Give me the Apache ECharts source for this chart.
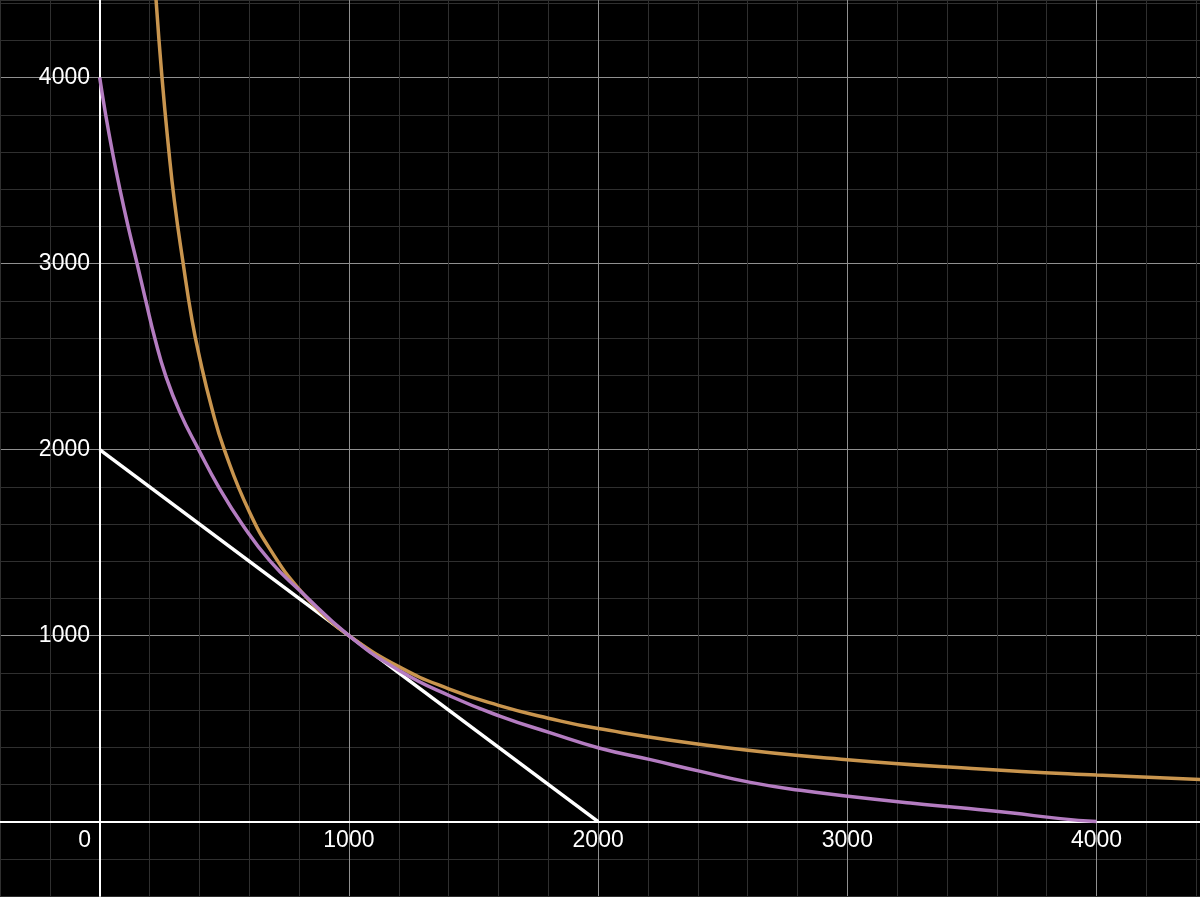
<!DOCTYPE html>
<html>
<head>
<meta charset="utf-8">
<script src="https://cdn.jsdelivr.net/npm/echarts@6/dist/echarts.min.js"></script>
<style>
  html, body { margin: 0; padding: 0; background: #000; }
  #plot { width: 1200px; height: 897px; }
</style>
</head>
<body>
<div id="plot"></div>
<script>
// curve values
var hyperX = [226, 250, 275, 300, 335, 370, 400, 450, 500, 600, 700, 800, 900, 1000, 1200, 1400, 1600, 1800, 2000, 2500, 3000, 3500, 4000, 4420];
var hyperY = [4420, 4000, 3640, 3333, 3000, 2700, 2500, 2222, 2000, 1667, 1430, 1250, 1110, 1000, 833, 714, 625, 556, 500, 400, 333, 286, 250, 226];

var purpleX = [0, 24, 51, 81, 114, 150, 185, 221, 264, 322, 397, 477, 571, 684, 806, 1000, 1207, 1408, 1608, 1809, 2003, 2210, 2411, 2611, 2812, 3012, 3253, 3454, 3654, 3855, 4000];
var purpleY = [4000, 3800, 3600, 3400, 3200, 3000, 2800, 2600, 2400, 2200, 2000, 1800, 1600, 1400, 1238, 1000, 808, 674, 566, 477, 396, 333, 270, 211, 168, 135, 100, 74, 47, 16, 0];

var lineX = [0, 2000];
var lineY = [2000, 0];

var labelTicks = [1000, 2000, 3000, 4000];

function pairs(xs, ys) {
  return xs.map(function (x, i) { return [x, ys[i]]; });
}

var minor = '#2f2f2f';
var major = '#909090';
var labelFont = { color: '#fff', fontSize: 23, fontFamily: 'Liberation Sans' };

var xMin = -400, xMax = 4415, yMin = -400, yMax = 4417;
var W = 1200, H = 896;
// distance of the zero lines from the grid edges
var xZeroOffset = -Math.round(H * (0 - yMin) / (yMax - yMin));
var yZeroOffset = -Math.round(W * (0 - xMin) / (xMax - xMin));

var myPlot = echarts.init(document.getElementById('plot'));
option = {
  backgroundColor: '#000',
  animation: false,
  grid: { left: 0, right: 0, top: 0, bottom: 1, containLabel: false, outerBoundsMode: 'none' },
  xAxis: {
    type: 'value',
    min: xMin,
    max: xMax,
    interval: 200,
    offset: xZeroOffset,
    axisLine: { onZero: false, lineStyle: { color: '#fff', width: 2 } },
    axisTick: { show: false },
    splitLine: { lineStyle: { color: [minor, minor, major, minor, minor], width: 1 } },
    axisLabel: Object.assign({
      interval: 0,
      margin: 7,
      showMinLabel: false,
      showMaxLabel: false,
      formatter: function (v) {
        if (v === 0) return '{z|0}';
        return labelTicks.indexOf(v) >= 0 ? String(v) : '';
      },
      rich: { z: { color: '#fff', fontSize: 23, fontFamily: 'Liberation Sans', padding: [0, 30, 0, 0] } }
    }, labelFont)
  },
  yAxis: {
    type: 'value',
    min: yMin,
    max: yMax,
    interval: 200,
    offset: yZeroOffset,
    axisLine: { onZero: false, lineStyle: { color: '#fff', width: 2 } },
    axisTick: { show: false },
    splitLine: { lineStyle: { color: [minor, minor, major, minor, minor], width: 1 } },
    axisLabel: Object.assign({
      interval: 0,
      margin: 10,
      showMinLabel: false,
      showMaxLabel: false,
      formatter: function (v) {
        return labelTicks.indexOf(v) >= 0 ? String(v) : '';
      }
    }, labelFont)
  },
  series: [
    {
      type: 'line',
      data: pairs(lineX, lineY),
      showSymbol: false,
      lineStyle: { color: '#fff', width: 3.5 },
      z: 3
    },
    {
      type: 'line',
      data: pairs(hyperX, hyperY),
      smooth: 0.5,
      showSymbol: false,
      lineStyle: { color: '#c9954e', width: 3.5 },
      z: 4
    },
    {
      type: 'line',
      data: pairs(purpleX, purpleY),
      smooth: 0.5,
      showSymbol: false,
      lineStyle: { color: '#b47cc1', width: 3.5 },
      z: 5
    }
  ]
};

option && myPlot.setOption(option);
</script>
</body>
</html>
